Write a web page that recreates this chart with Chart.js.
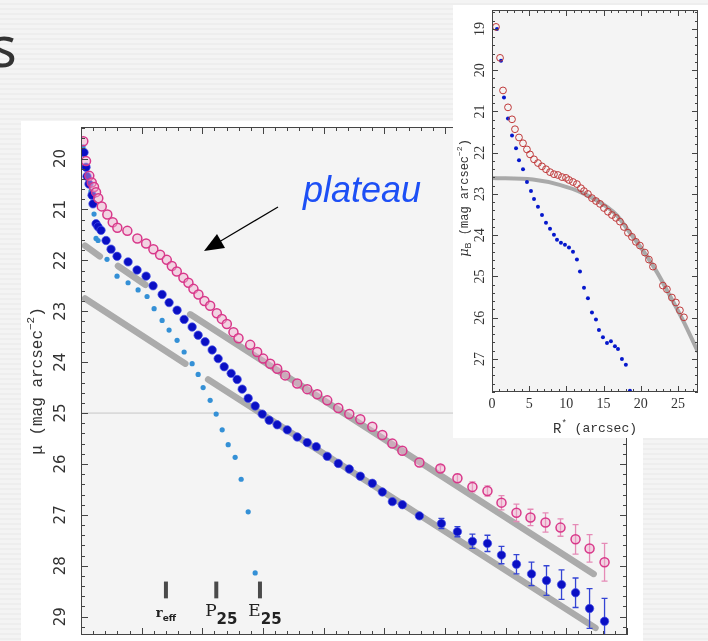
<!DOCTYPE html>
<html><head><meta charset="utf-8">
<script src="https://cdn.jsdelivr.net/npm/chart.js@4.4.0/dist/chart.umd.min.js"></script>
<style>
html,body{margin:0;padding:0;}
body{width:708px;height:641px;overflow:hidden;position:relative;background:repeating-linear-gradient(to bottom,#f4f4f4 0px,#f4f4f4 3px,#eeeeee 3px,#eeeeee 5px);}
#title{position:absolute;left:-10px;top:17px;font:56px/56px 'Noto Sans';color:#333;}
#mainBox{position:absolute;left:21px;top:121px;width:622px;height:520px;background:#fff;}
#insetBox{position:absolute;left:453px;top:5px;width:255px;height:433px;background:#fff;}
#plateau{position:absolute;left:303px;top:172px;font:italic 36px/36px 'Liberation Sans';color:#1d4ff5;}
#arrow{position:absolute;left:0;top:0;}
</style></head>
<body>
<div id="title">s</div>
<div id="mainBox"><canvas id="mainC" width="622" height="520"></canvas></div>
<svg id="arrow" width="708" height="641"><line x1="278" y1="207" x2="219" y2="242" stroke="#000" stroke-width="1.2"/><polygon points="204,251 217,234 225,248" fill="#000"/></svg>
<div id="plateau">plateau</div>
<div id="insetBox"><canvas id="insetC" width="255" height="433"></canvas></div>
<script>
// ---------- main chart data ----------
const pinkX = [0.38,0.83,1.37,1.77,2.15,2.48,2.85,3.42,4.34,5.23,5.99,7.64,9.29,10.73,11.93,13.04,14.14,14.97,15.79,16.88,17.71,18.53,19.36,20.35,21.29,22.39,23.22,24.04,25.13,25.96,27.89,29.04,30.03,31.19,32.34,33.66,35.64,37.29,38.94,40.59,42.41,44.22,46.04,48.02,49.67,51.32,52.97,55.78,59.24,62.05,64.52,67.0,69.31,71.78,74.09,76.57,79.04,81.52,83.83,86.30];
const pinkY = [19.66,20.05,20.34,20.47,20.56,20.66,20.78,20.94,21.10,21.25,21.36,21.42,21.57,21.67,21.78,21.89,21.99,22.11,22.22,22.34,22.44,22.56,22.67,22.80,22.89,23.04,23.15,23.25,23.41,23.53,23.66,23.80,23.93,24.03,24.13,24.26,24.42,24.53,24.63,24.75,24.90,25.02,25.12,25.27,25.43,25.60,25.74,25.97,26.09,26.28,26.45,26.53,26.76,26.96,27.05,27.15,27.25,27.48,27.66,27.93];
const pinkErr = [0,0,0,0,0,0,0,0,0,0,0,0,0,0,0,0,0,0,0,0,0,0,0,0,0,0,0,0,0,0,0,0,0,0,0,0,0,0,0,0,0,0,0,0,0,0,0,0,0.06,0.08,0.10,0.10,0.14,0.17,0.16,0.19,0.17,0.29,0.27,0.37];
const blueX = [0.50,0.83,0.99,1.32,1.82,1.98,2.48,2.81,3.30,4.13,4.95,5.94,7.76,9.24,10.73,11.88,13.37,14.52,15.84,17.0,18.32,19.31,20.46,21.62,22.61,23.60,24.75,25.74,26.57,27.56,28.71,29.87,31.02,32.34,34.0,35.64,37.29,38.78,40.59,42.41,44.22,46.04,48.02,49.67,51.32,52.97,55.78,59.41,62.05,64.52,67.0,69.31,71.78,74.26,76.73,79.21,81.52,83.83,86.30];
const blueY = [19.88,20.17,20.35,20.50,20.72,20.89,21.28,21.34,21.41,21.61,21.78,21.92,22.03,22.19,22.31,22.50,22.67,22.83,22.98,23.16,23.31,23.47,23.60,23.76,23.93,24.09,24.22,24.34,24.53,24.71,24.86,25.02,25.14,25.23,25.33,25.47,25.58,25.66,25.85,25.99,26.10,26.24,26.38,26.55,26.74,26.80,27.02,27.17,27.33,27.52,27.56,27.79,27.97,28.16,28.29,28.37,28.53,28.84,29.09];
const blueErr = [0,0,0,0,0,0,0,0,0,0,0,0,0,0,0,0,0,0,0,0,0,0,0,0,0,0,0,0,0,0,0,0,0,0,0,0,0,0,0,0,0,0,0,0,0,0,0.04,0.10,0.10,0.14,0.16,0.17,0.19,0.23,0.29,0.29,0.29,0.39,0.45];
const cyanX = [0.33,0.66,0.99,1.16,1.65,1.98,2.15,2.48,2.81,4.29,5.94,7.76,9.41,10.89,12.05,13.37,14.52,15.84,17.0,18.32,19.31,20.13,21.29,22.28,23.27,24.26,25.41,26.40,27.56,28.71];
const cyanY = [19.77,19.90,20.16,20.37,20.64,20.89,21.09,21.57,21.61,21.98,22.31,22.44,22.58,22.71,22.95,23.18,23.37,23.57,23.80,24.03,24.24,24.50,24.75,25.02,25.33,25.62,25.87,26.30,26.94,28.14];
// fit-line segments (x start/end, y start/end)
const fitUpperX = [[0.66,3.1],[6.1,10.6],[18.0,84.5]];
const fitUpperY = [[21.71,21.92],[22.11,22.48],[23.06,28.16]];
const fitLowerX = [[0.66,17.2],[20.96,84.8]];
const fitLowerY = [[22.75,24.03],[24.34,29.22]];
const refLevel = 25;
const markerX = [14.0, 22.3, 29.5];
const markerMain = ['r','P','E'];
const markerSub = ['eff','25','25'];
const markerTop = 28.31, markerBottom = 28.64, markerLabelY = 28.98;
const mainYTicks = [20,21,22,23,24,25,26,27,28,29];
const mainXMajor = [0,10,20,30,40,50,60,70,80,90];

// ---------- inset data ----------
const redX = [0.54,1.08,1.48,2.15,2.69,3.09,3.63,4.17,4.70,5.11,5.65,6.18,6.72,7.26,7.80,8.33,8.87,9.41,9.95,10.35,10.89,11.42,11.96,12.37,12.90,13.44,13.98,14.52,15.05,15.59,16.13,16.67,17.20,17.74,18.28,18.82,19.35,19.89,20.56,21.10,21.64,22.98,23.52,24.19,24.73,25.27,25.81];
const redY = [18.95,19.70,20.49,20.90,21.19,21.43,21.63,21.77,21.92,22.04,22.16,22.25,22.33,22.40,22.47,22.52,22.54,22.59,22.61,22.66,22.71,22.76,22.86,22.93,23.00,23.10,23.17,23.24,23.34,23.43,23.51,23.58,23.67,23.80,23.94,24.04,24.16,24.25,24.42,24.59,24.76,25.22,25.31,25.51,25.63,25.82,25.99];
const dotX = [0.67,1.21,1.61,2.15,2.69,3.23,3.63,4.17,4.70,5.24,5.65,6.18,6.72,7.26,7.80,8.33,8.74,9.27,9.81,10.35,10.89,11.42,11.83,12.37,12.90,13.44,13.98,14.38,14.92,15.46,15.99,16.53,16.94,17.47,18.0,18.55];
const dotY = [19.0,19.77,20.66,21.17,21.58,21.89,22.18,22.40,22.71,22.93,23.12,23.31,23.51,23.70,23.84,23.99,24.11,24.18,24.23,24.30,24.40,24.59,24.88,25.27,25.53,25.87,26.04,26.30,26.47,26.61,26.57,26.69,26.76,27.0,27.14,27.77];
const curveX = [0,5.5,9.1,12.2,15.5,16.8,18.5,20.3,22.2,23.9,25.7,27.7];
const curveY = [22.61,22.65,22.78,22.98,23.32,23.52,23.93,24.37,24.90,25.46,26.07,26.83];
const insetXTicks = [0,5,10,15,20,25];
const insetYTicks = [19,20,21,22,23,24,25,26,27];

// ---------- helpers ----------
const pts = (xs, ys) => xs.map((v,i)=>({x:v,y:ys[i]}));
function segSets(xs, ys, color, width){
  return xs.map((sx,i)=>({data:[{x:sx[0],y:ys[i][0]},{x:sx[1],y:ys[i][1]}],borderColor:color,borderWidth:width,
    pointRadius:0,showLine:true,borderCapStyle:'round',order:10,clip:false}));
}
function richText(ctx, parts, cx, cy){
  let w=0; parts.forEach(p=>{ctx.font=p.f; p.w=ctx.measureText(p.t).width; w+=p.w;});
  let x=cx-w/2;
  parts.forEach(p=>{ctx.font=p.f; ctx.fillText(p.t,x,cy+(p.dy||0)); x+=p.w;});
}
function drawFrame(chart,o){
  const {ctx,chartArea:a,scales:{x,y}}=chart;
  ctx.save();
  ctx.strokeStyle=o.color; ctx.lineWidth=1;
  ctx.strokeRect(Math.round(a.left)+0.5,Math.round(a.top)+0.5,Math.round(a.right-a.left)-1,Math.round(a.bottom-a.top)-1);
  ctx.beginPath();
  const nx=Math.round((x.max-x.min)/o.xMinor);
  for(let i=0;i<=nx;i++){
    const v=x.min+i*o.xMinor; if(v>x.max+1e-9) break;
    const maj=Math.abs(v/o.xMajor-Math.round(v/o.xMajor))<1e-6;
    const L=maj?o.majLen:o.minLen; const px=Math.round(x.getPixelForValue(v))+0.5;
    ctx.moveTo(px,a.bottom); ctx.lineTo(px,a.bottom-L); ctx.moveTo(px,a.top); ctx.lineTo(px,a.top+L);
  }
  const y0=Math.ceil(y.min/o.yMinor-1e-9)*o.yMinor;
  for(let v=y0; v<=y.max+1e-9; v+=o.yMinor){
    const maj=Math.abs(v/o.yMajor-Math.round(v/o.yMajor))<1e-6;
    const L=maj?o.majLen:o.minLen; const py=Math.round(y.getPixelForValue(v))+0.5;
    ctx.moveTo(a.left,py); ctx.lineTo(a.left+L,py); ctx.moveTo(a.right,py); ctx.lineTo(a.right-L,py);
  }
  ctx.stroke(); ctx.restore();
}
const bgPlugin = {id:'bg',beforeDraw(chart,args,o){const {ctx,chartArea:a}=chart;ctx.save();ctx.fillStyle=o.color;ctx.fillRect(a.left,a.top,a.right-a.left,a.bottom-a.top);ctx.restore();}};
const errPlugin = {id:'err',beforeDatasetDraw(chart,args){
  const ds=chart.data.datasets[args.index]; if(!ds.errs) return;
  const {ctx,chartArea:a,scales:{x,y}}=chart;
  ctx.save(); ctx.beginPath(); ctx.rect(a.left,a.top,a.right-a.left,a.bottom-a.top); ctx.clip();
  ctx.strokeStyle=ds.errColor; ctx.lineWidth=1.3; ctx.beginPath();
  ds.data.forEach((p,i)=>{const e=ds.errs[i]; if(!e) return;
    const px=x.getPixelForValue(p.x), t=y.getPixelForValue(p.y-e), b=y.getPixelForValue(p.y+e);
    ctx.moveTo(px,t);ctx.lineTo(px,b);ctx.moveTo(px-3,t);ctx.lineTo(px+3,t);ctx.moveTo(px-3,b);ctx.lineTo(px+3,b);});
  ctx.stroke(); ctx.restore();
}};

// ---------- main chart ----------
const mainPlugin = {id:'mainDeco',afterDraw(chart){
  const {ctx,chartArea:a,scales:{x,y}}=chart;
  drawFrame(chart,{color:'#444',xMinor:2,xMajor:10,yMinor:0.2,yMajor:1,majLen:7,minLen:4});
  ctx.save(); ctx.fillStyle='#333'; ctx.textAlign='left'; ctx.textBaseline='middle';
  // y tick labels (rotated)
  mainYTicks.forEach(v=>{const py=y.getPixelForValue(v); ctx.save(); ctx.translate(40,py); ctx.rotate(-Math.PI/2);
    ctx.font="15px 'DejaVu Sans'"; ctx.textAlign='center'; ctx.fillText(String(v),0,0); ctx.restore();});
  // y title
  ctx.save(); ctx.translate(17,(a.top+a.bottom)/2); ctx.rotate(-Math.PI/2); ctx.textAlign='left';
  richText(ctx,[{t:'μ (mag arcsec',f:"16px 'Liberation Mono'"},{t:'−2',f:"11px 'Liberation Mono'",dy:-7},{t:')',f:"16px 'Liberation Mono'"}],0,0);
  ctx.restore();
  // markers
  ctx.strokeStyle='#4a4a4a'; ctx.lineWidth=4; ctx.lineCap='butt';
  markerX.forEach((mx,i)=>{const px=x.getPixelForValue(mx);
    ctx.beginPath(); ctx.moveTo(px,y.getPixelForValue(markerTop)); ctx.lineTo(px,y.getPixelForValue(markerBottom)); ctx.stroke();
    const ly=y.getPixelForValue(markerLabelY);
    ctx.fillStyle='#222';
    if(i===0){ richText(ctx,[{t:'r',f:"bold 13px 'DejaVu Serif'",dy:-2},{t:'eff',f:"bold 9px 'DejaVu Sans'",dy:3}],px,ly); }
    else { richText(ctx,[{t:markerMain[i],f:"17px 'DejaVu Serif'",dy:-4},{t:markerSub[i],f:"bold 15px 'DejaVu Sans'",dy:4}],px+5,ly); }
  });
  ctx.restore();
}};

const mainDatasets = [
  {data:pts(pinkX,pinkY),errs:pinkErr,errColor:'#e58ab6',showLine:false,pointRadius:4.5,pointBorderWidth:1.5,
   pointBorderColor:'#d8388a',pointBackgroundColor:'rgba(240,170,205,0.45)',order:1},
  {data:pts(blueX,blueY),errs:blueErr,errColor:'#3444d4',showLine:false,pointRadius:4.2,pointBorderWidth:1,
   pointBorderColor:'rgba(70,80,230,0.7)',pointBackgroundColor:'#0a0fc4',order:2},
  {data:pts(cyanX,cyanY),showLine:false,pointRadius:2.6,pointBorderWidth:0,pointBackgroundColor:'#3490d6',order:3},
  {data:[{x:0,y:refLevel},{x:90,y:refLevel}],showLine:true,borderColor:'#c6c6c6',borderWidth:1,pointRadius:0,order:12},
  ...segSets(fitUpperX,fitUpperY,'#ababab',6.5),
  ...segSets(fitLowerX,fitLowerY,'#ababab',6.5)
];
new Chart(document.getElementById('mainC'),{
  type:'line',
  data:{datasets:mainDatasets},
  options:{responsive:false,animation:false,devicePixelRatio:1,
    layout:{padding:{left:60,right:16,top:1,bottom:4}},
    plugins:{legend:{display:false},tooltip:{enabled:false},bg:{color:'#f4f4f4'}},
    scales:{
      x:{type:'linear',min:0,max:90,ticks:{display:false},grid:{display:false},border:{display:false},afterFit(s){s.height=0;}},
      y:{type:'linear',min:19.38,max:29.36,reverse:true,ticks:{display:false},grid:{display:false},border:{display:false},afterFit(s){s.width=0;}}
    }},
  plugins:[bgPlugin,errPlugin,mainPlugin]
});

// ---------- inset chart ----------
const insetPlugin = {id:'insetDeco',afterDraw(chart){
  const {ctx,chartArea:a,scales:{x,y}}=chart;
  drawFrame(chart,{color:'#444',xMinor:1,xMajor:5,yMinor:0.2,yMajor:1,majLen:6,minLen:3});
  ctx.save(); ctx.fillStyle='#333'; ctx.textBaseline='middle'; ctx.textAlign='center';
  ctx.font="14px 'Liberation Serif'";
  insetXTicks.forEach(v=>ctx.fillText(String(v),x.getPixelForValue(v),399));
  insetYTicks.forEach(v=>{ctx.save();ctx.translate(27,y.getPixelForValue(v));ctx.rotate(-Math.PI/2);ctx.font="14px 'Liberation Serif'";ctx.fillText(String(v),0,0);ctx.restore();});
  ctx.textAlign='left';
  richText(ctx,[{t:'R',f:"14px 'Liberation Mono'"},{t:'*',f:"9px 'Liberation Mono'",dy:-5},{t:' (arcsec)',f:"13px 'Liberation Mono'"}],(a.left+a.right)/2,424);
  ctx.save(); ctx.translate(12,(a.top+a.bottom)/2-3); ctx.rotate(-Math.PI/2);
  richText(ctx,[{t:'μ',f:"italic 13px 'DejaVu Serif'"},{t:'B',f:"9px 'Liberation Sans'",dy:4},{t:' (mag arcsec',f:"12px 'Liberation Mono'"},{t:'−2',f:"8px 'Liberation Mono'",dy:-5},{t:')',f:"12px 'Liberation Mono'"}],0,0);
  ctx.restore(); ctx.restore();
}};
new Chart(document.getElementById('insetC'),{
  type:'line',
  data:{datasets:[
    {data:pts(redX,redY),showLine:false,pointRadius:3.4,pointBorderWidth:1,pointBorderColor:'#c0393a',pointBackgroundColor:'rgba(0,0,0,0)',order:1},
    {data:pts(dotX,dotY),showLine:false,pointRadius:2,pointBorderWidth:0,pointBackgroundColor:'#0618cc',order:2},
    {data:pts(curveX,curveY),showLine:true,borderColor:'#a9a9a9',borderWidth:4,pointRadius:0,cubicInterpolationMode:'monotone',order:5}
  ]},
  options:{responsive:false,animation:false,devicePixelRatio:1,
    layout:{padding:{left:39,right:10,top:3,bottom:46}},
    plugins:{legend:{display:false},tooltip:{enabled:false},bg:{color:'#f4f4f4'}},
    scales:{
      x:{type:'linear',min:0,max:27.7,ticks:{display:false},grid:{display:false},border:{display:false},afterFit(s){s.height=0;}},
      y:{type:'linear',min:18.54,max:27.8,reverse:true,ticks:{display:false},grid:{display:false},border:{display:false},afterFit(s){s.width=0;}}
    }},
  plugins:[bgPlugin,insetPlugin]
});
</script>
</body></html>
